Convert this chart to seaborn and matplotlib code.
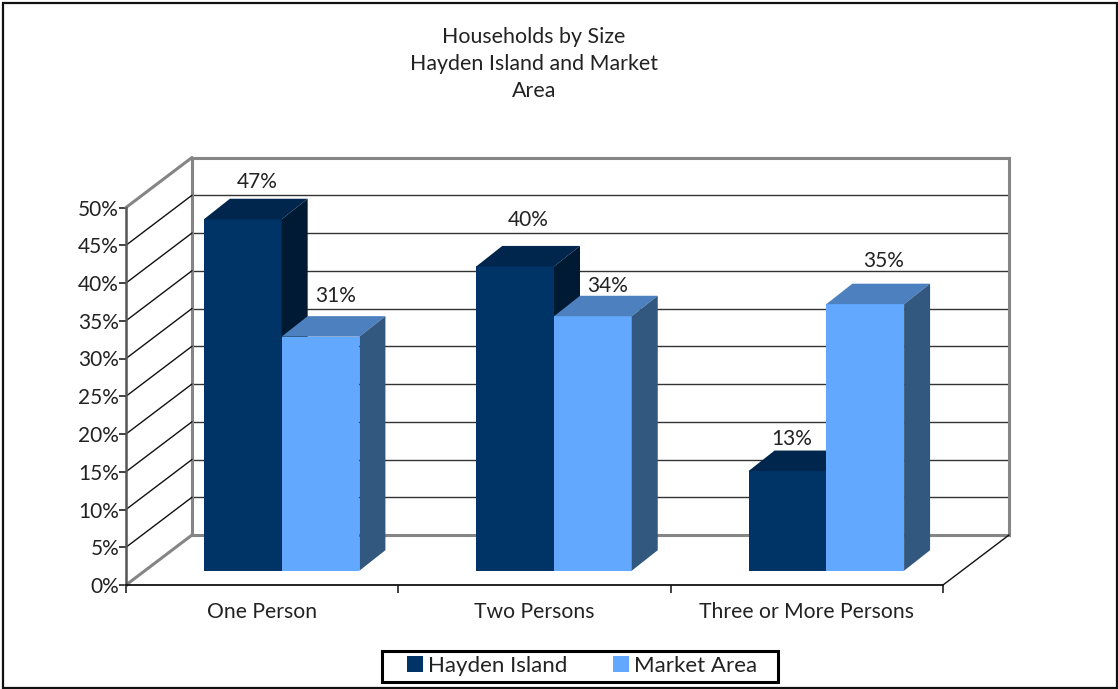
import matplotlib
matplotlib.use("Agg")
import matplotlib.pyplot as plt
from matplotlib.patches import Polygon, Rectangle, Patch
import pandas as pd
import seaborn as sns

W, H = 1118, 689

categories = ["One Person", "Two Persons", "Three or More Persons"]
series_names = ["Hayden Island", "Market Area"]
hayden_island = [46.55, 40.3, 13.2]
market_area = [31.0, 33.7, 35.3]
y_ticks = [0, 5, 10, 15, 20, 25, 30, 35, 40, 45, 50]

title_text = "Households by Size\nHayden Island and Market\nArea"

colors = {"Hayden Island": "#003366", "Market Area": "#62a8ff"}
top_colors = {"Hayden Island": "#00264d", "Market Area": "#4d80bf"}
side_colors = {"Hayden Island": "#001a33", "Market Area": "#33587f"}

# label offsets from the top centre of each bar, in pixels
label_offsets = {"Hayden Island": [(14, 37), (13, 46), (4, 32)],
                 "Market Area": [(15, 41), (15, 30), (18, 43)]}

df = pd.DataFrame({
    "category": categories * 2,
    "series": [series_names[0]] * 3 + [series_names[1]] * 3,
    "value": hayden_island + market_area,
})

sns.set_theme(style="white")
plt.rcParams["font.family"] = ["Lato", "DejaVu Sans"]
plt.rcParams["text.color"] = "#222222"
plt.rcParams["axes.labelcolor"] = "#222222"
plt.rcParams["xtick.color"] = "#222222"
plt.rcParams["ytick.color"] = "#222222"


def px_axes(fig, left, right, bottom, top):
    # axes rectangle from pixel positions (y counted from the top of the image)
    return fig.add_axes([left / W, 1 - bottom / H, (right - left) / W, (bottom - top) / H])


fig = plt.figure(figsize=(W / 100, H / 100), dpi=100, facecolor="white")
fig.patches.append(Rectangle((3 / W, 1.5 / H), 1113.5 / W, 684.5 / H,
                             transform=fig.transFigure, fill=False, edgecolor="#111111",
                             linewidth=1.6, figure=fig))

# back wall
ax_back = px_axes(fig, 192, 1008.5, 535, 157.5)
ax_back.set_xlim(0, 1)
ax_back.set_ylim(0, 50)
ax_back.set_xticks([])
ax_back.set_yticks(y_ticks)
ax_back.tick_params(left=False, labelleft=False)
ax_back.grid(axis="y", color="#333333", linewidth=1.0)
for s in ax_back.spines.values():
    s.set_color("#858585")
    s.set_linewidth(2.2)
    s.set_visible(True)

# front plane with the axis ticks and the side wall / floor lines
ax_front = px_axes(fig, 126, 943, 585, 207.5)
ax_front.patch.set_alpha(0)
ax_front.set_xlim(-0.5, 2.5)
ax_front.set_ylim(0, 50)
ax_front.set_yticks(y_ticks)
ax_front.set_yticklabels([f"{t}%" for t in y_ticks], fontsize=15)
ax_front.set_xticks([-0.5, 0.5, 1.5, 2.5])
ax_front.set_xticklabels([])
ax_front.set_xticks([0, 1, 2], minor=True)
ax_front.set_xticklabels(categories, minor=True, fontsize=15.2)
ax_front.tick_params(axis="x", which="major", bottom=True, length=6, width=1.2, color="#222222")
ax_front.tick_params(axis="x", which="minor", bottom=False, length=0, pad=12.5)
ax_front.tick_params(axis="y", left=True, length=5, width=1.2, color="#222222", pad=0)
for name in ["top", "right"]:
    ax_front.spines[name].set_visible(False)
ax_front.spines["left"].set_color("#555555")
ax_front.spines["left"].set_linewidth(1.8)
ax_front.spines["bottom"].set_color("#111111")
ax_front.spines["bottom"].set_linewidth(1.3)

wall_dx = 66 / (817 / 3)
wall_dy = 50 / (377.5 / 50)
for t in y_ticks:
    edge = t in (0, 50)
    ax_front.plot([-0.5, -0.5 + wall_dx], [t, t + wall_dy], clip_on=False,
                  color="#858585" if edge else "#111111", lw=2.2 if edge else 1.0)
ax_front.plot([2.5, 2.5 + wall_dx], [0, wall_dy], clip_on=False, color="#111111", lw=1.0)

# the bars
ax = px_axes(fig, 145.5, 962.5, 570.7, 193.2)
ax.patch.set_alpha(0)
sns.barplot(data=df, x="category", y="value", hue="series", order=categories,
            hue_order=series_names, palette=colors, saturation=1, width=0.571, gap=0,
            linewidth=0, legend=False, ax=ax)
ax.set_xlim(-0.5, 2.5)
ax.set_ylim(0, 50)
ax.set_axis_off()

bar_dx = 26 / (817 / 3)
bar_dy = 20.5 / (377.5 / 50)
for z, (name, container) in enumerate(zip(series_names, ax.containers), start=3):
    for i, bar in enumerate(container):
        bar.set_zorder(z)
        x0, x1 = bar.get_x(), bar.get_x() + bar.get_width()
        h = bar.get_height()
        ax.add_patch(Polygon([(x0, h), (x1, h), (x1 + bar_dx, h + bar_dy), (x0 + bar_dx, h + bar_dy)],
                             facecolor=top_colors[name], edgecolor="none", zorder=z, clip_on=False))
        ax.add_patch(Polygon([(x1, 0), (x1 + bar_dx, bar_dy), (x1 + bar_dx, h + bar_dy), (x1, h)],
                             facecolor=side_colors[name], edgecolor="none", zorder=z, clip_on=False))
        ax.annotate(f"{h:.0f}%", xy=((x0 + x1) / 2, h), xytext=label_offsets[name][i],
                    textcoords="offset pixels", ha="center", va="center", fontsize=15,
                    zorder=6, annotation_clip=False)

fig.text(534 / W, 1 - 64 / H, title_text, ha="center", va="center", fontsize=15.4,
         linespacing=1.46)

# legend box
fig.patches.append(Rectangle((382 / W, 1 - 682 / H), 396 / W, 31 / H, transform=fig.transFigure,
                             facecolor="white", edgecolor="#000000", linewidth=2.2, figure=fig))
handles = [Patch(facecolor=colors[n], edgecolor="none", label=n) for n in series_names]
fig.legend(handles=handles, ncol=2, loc="center left",
           bbox_to_anchor=(407 / W, 1 - 666 / H), borderaxespad=0, borderpad=0,
           fontsize=16, frameon=False,
           handlelength=0.72, handleheight=0.72, handletextpad=0.22, columnspacing=2.05)

fig.savefig("out.png", dpi=100)
